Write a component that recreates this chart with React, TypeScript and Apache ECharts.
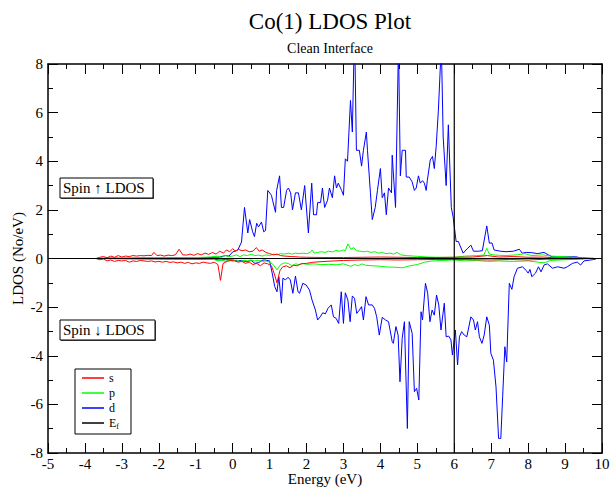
import React, { useEffect, useRef } from "react";
import * as echarts from "echarts";

const xTicks = { min: -5, max: 10, interval: 1 };
const yTicks = { min: -8, max: 8, interval: 2 };

const sUp: number[][] = [[-3.7,0],[-3.6,0.05],[-3.5,0.08],[-3.4,0.03],[-3.3,0.1],[-3.2,0.05],[-3.1,0.12],[-3.0,0.06],[-2.9,0.1],[-2.8,0.08],[-2.7,0.12],[-2.6,0.1],[-2.5,0.12],[-2.4,0.11],[-2.3,0.13],[-2.2,0.12],[-2.13,0.25],[-2.05,0.12],[-1.95,0.14],[-1.85,0.1],[-1.75,0.14],[-1.65,0.12],[-1.55,0.15],[-1.45,0.38],[-1.35,0.15],[-1.25,0.14],[-1.15,0.18],[-1.05,0.13],[-0.95,0.2],[-0.85,0.15],[-0.75,0.22],[-0.65,0.17],[-0.55,0.25],[-0.45,0.18],[-0.35,0.3],[-0.25,0.22],[-0.17,0.35],[-0.08,0.28],[0.0,0.4],[0.08,0.3],[0.15,0.38],[0.25,0.32],[0.35,0.35],[0.45,0.28],[0.55,0.3],[0.64,0.45],[0.72,0.3],[0.8,0.35],[0.9,0.25],[1.0,0.2],[1.1,0.15],[1.2,0.18],[1.3,0.12],[1.4,0.1],[1.6,0.08],[1.8,0.06],[2.0,0.05],[2.5,0.04],[3.0,0.04],[3.5,0.05],[4.0,0.06],[4.5,0.05],[5.0,0.04],[5.5,0.04],[6.0,0.05],[6.5,0.06],[6.9,0.12],[7.2,0.06],[7.6,0.08],[8.0,0.05],[8.4,0.06],[8.7,0.03],[9.2,0.02],[9.6,0.01]];

const sDown: number[][] = [[-3.7,0],[-3.6,-0.05],[-3.5,-0.02],[-3.4,-0.1],[-3.3,-0.06],[-3.2,-0.12],[-3.1,-0.08],[-3.0,-0.1],[-2.9,-0.08],[-2.8,-0.15],[-2.7,-0.1],[-2.6,-0.12],[-2.5,-0.08],[-2.4,-0.1],[-2.3,-0.12],[-2.2,-0.1],[-2.1,-0.14],[-2.0,-0.12],[-1.9,-0.15],[-1.8,-0.12],[-1.7,-0.16],[-1.6,-0.14],[-1.5,-0.18],[-1.4,-0.15],[-1.3,-0.2],[-1.2,-0.16],[-1.1,-0.22],[-1.0,-0.18],[-0.9,-0.2],[-0.8,-0.15],[-0.7,-0.18],[-0.6,-0.2],[-0.5,-0.15],[-0.4,-0.25],[-0.33,-0.9],[-0.26,-0.2],[-0.15,-0.12],[-0.05,-0.08],[0.05,-0.1],[0.15,-0.15],[0.25,-0.12],[0.35,-0.2],[0.45,-0.15],[0.55,-0.25],[0.65,-0.2],[0.75,-0.3],[0.85,-0.18],[0.95,-0.22],[1.05,-0.3],[1.12,-0.6],[1.2,-1.0],[1.28,-0.5],[1.35,-0.35],[1.45,-0.3],[1.55,-0.38],[1.65,-0.28],[1.75,-0.3],[1.85,-0.22],[2.0,-0.2],[2.2,-0.15],[2.5,-0.12],[3.0,-0.08],[3.5,-0.06],[4.0,-0.05],[4.5,-0.06],[5.0,-0.05],[5.5,-0.04],[6.0,-0.04],[6.5,-0.05],[7.0,-0.06],[7.5,-0.04],[8.0,-0.06],[8.5,-0.03],[9.0,-0.02],[9.5,-0.01]];

const pUp: number[][] = [[-3.7,0],[-3.0,0.01],[-2.0,0.02],[-1.5,0.03],[-1.0,0.04],[-0.6,0.06],[-0.4,0.1],[-0.3,0.05],[-0.2,0.12],[-0.1,0.08],[0.0,0.1],[0.1,0.15],[0.2,0.08],[0.3,0.15],[0.4,0.12],[0.5,0.18],[0.6,0.12],[0.7,0.14],[0.8,0.1],[0.9,0.15],[1.0,0.12],[1.1,0.18],[1.2,0.15],[1.3,0.2],[1.4,0.18],[1.5,0.22],[1.6,0.18],[1.7,0.22],[1.8,0.2],[1.9,0.22],[2.0,0.2],[2.1,0.25],[2.15,0.35],[2.2,0.22],[2.3,0.25],[2.4,0.28],[2.5,0.25],[2.6,0.3],[2.7,0.27],[2.8,0.33],[2.9,0.3],[3.0,0.35],[3.05,0.32],[3.12,0.6],[3.2,0.38],[3.28,0.45],[3.35,0.32],[3.45,0.3],[3.55,0.28],[3.65,0.3],[3.75,0.25],[3.85,0.28],[3.95,0.22],[4.05,0.25],[4.15,0.2],[4.25,0.22],[4.35,0.18],[4.45,0.25],[4.55,0.15],[4.7,0.12],[4.9,0.1],[5.1,0.08],[5.3,0.06],[5.6,0.05],[6.0,0.05],[6.3,0.1],[6.6,0.12],[6.8,0.14],[6.88,0.42],[6.95,0.18],[7.1,0.14],[7.4,0.12],[7.7,0.15],[7.9,0.2],[8.1,0.12],[8.4,0.15],[8.6,0.1],[8.9,0.08],[9.2,0.05],[9.5,0.02],[9.8,0.01]];

const pDown: number[][] = [[-3.7,0],[-2.0,-0.01],[-1.0,-0.02],[-0.5,-0.04],[-0.4,-0.1],[-0.3,-0.06],[-0.2,-0.12],[-0.1,-0.08],[0.0,-0.1],[0.1,-0.06],[0.2,-0.12],[0.3,-0.08],[0.4,-0.1],[0.5,-0.06],[0.6,-0.1],[0.7,-0.08],[0.8,-0.12],[0.9,-0.1],[1.0,-0.15],[1.1,-0.25],[1.2,-0.47],[1.3,-0.25],[1.4,-0.18],[1.5,-0.2],[1.6,-0.3],[1.7,-0.22],[1.8,-0.25],[1.9,-0.2],[2.0,-0.24],[2.2,-0.22],[2.4,-0.25],[2.6,-0.24],[2.8,-0.26],[3.0,-0.22],[3.2,-0.32],[3.3,-0.25],[3.4,-0.3],[3.5,-0.22],[3.6,-0.28],[3.8,-0.3],[4.0,-0.32],[4.2,-0.35],[4.4,-0.36],[4.6,-0.38],[4.8,-0.3],[5.0,-0.25],[5.2,-0.15],[5.4,-0.1],[5.7,-0.08],[6.0,-0.06],[6.3,-0.1],[6.6,-0.08],[6.9,-0.12],[7.2,-0.1],[7.6,-0.12],[8.0,-0.1],[8.43,-0.18],[8.6,-0.08],[9.0,-0.05],[9.5,-0.02],[9.8,-0.01]];

const dUp: number[][] = [[-3.7,0],[-3.3,0.02],[-3.0,0.01],[-2.5,0.02],[-2.0,0.02],[-1.5,0.03],[-1.0,0.03],[-0.7,0.04],[-0.5,0.05],[-0.35,0.06],[-0.2,0.12],[-0.1,0.1],[0.0,0.27],[0.14,0.35],[0.24,0.68],[0.32,2.1],[0.41,1.05],[0.46,1.6],[0.54,1.1],[0.59,0.9],[0.65,1.45],[0.70,1.3],[0.78,1.5],[0.84,1.1],[0.89,1.15],[0.95,2.8],[1.05,2.6],[1.08,2.4],[1.16,1.9],[1.19,2.8],[1.27,3.4],[1.32,2.1],[1.38,2.1],[1.46,2.8],[1.51,2.9],[1.57,2.7],[1.62,2.0],[1.70,2.7],[1.78,2.7],[1.86,2.0],[1.95,3.0],[2.05,1.05],[2.14,3.1],[2.19,1.8],[2.27,1.8],[2.30,2.3],[2.38,2.3],[2.43,2.9],[2.49,2.1],[2.57,2.4],[2.62,2.9],[2.70,2.5],[2.76,3.4],[2.81,2.9],[2.86,3.1],[2.95,2.8],[3.0,2.6],[3.05,4.1],[3.11,4.0],[3.19,6.5],[3.24,5.2],[3.30,9.5],[3.35,4.45],[3.43,4.45],[3.49,3.8],[3.54,4.45],[3.62,5.2],[3.65,4.45],[3.73,2.7],[3.78,1.6],[3.86,2.1],[3.92,2.8],[4.0,3.7],[4.05,2.5],[4.11,2.7],[4.16,1.8],[4.22,2.9],[4.30,2.7],[4.32,4.25],[4.41,2.1],[4.49,8.8],[4.54,3.4],[4.59,4.45],[4.68,4.45],[4.70,3.35],[4.78,3.35],[4.86,3.15],[4.92,2.8],[4.97,2.9],[5.03,3.4],[5.08,3.1],[5.14,3.2],[5.19,3.1],[5.24,2.8],[5.27,3.2],[5.35,4.05],[5.41,4.2],[5.46,3.7],[5.51,4.6],[5.57,6.1],[5.65,8.8],[5.70,5.0],[5.78,3.0],[5.84,5.5],[5.92,2.1],[5.97,1.7],[6.05,0.7],[6.11,0.7],[6.24,0.22],[6.35,0.4],[6.45,0.55],[6.52,0.3],[6.65,0.3],[6.76,0.32],[6.88,1.34],[6.95,0.63],[7.02,0.64],[7.08,0.35],[7.25,0.3],[7.4,0.28],[7.6,0.3],[7.76,0.38],[7.84,0.22],[7.95,0.25],[8.1,0.24],[8.25,0.2],[8.43,0.25],[8.55,0.15],[8.65,0.07],[9.0,0.07],[9.29,0.07],[9.46,0.02],[9.8,0]];

const dDown: number[][] = [[-3.7,0],[-3.0,-0.01],[-2.0,-0.02],[-1.0,-0.03],[-0.5,-0.04],[-0.35,-0.06],[-0.2,-0.05],[0,-0.06],[0.14,-0.1],[0.24,-0.08],[0.37,-0.13],[0.5,-0.08],[0.6,-0.2],[0.71,-0.17],[0.78,-0.08],[0.86,-0.06],[1.0,-0.1],[1.07,-0.6],[1.14,-1.16],[1.2,-1.37],[1.25,-0.75],[1.32,-1.84],[1.36,-0.81],[1.43,-0.88],[1.5,-0.77],[1.56,-0.88],[1.63,-1.43],[1.7,-0.72],[1.77,-1.37],[1.81,-1.43],[1.9,-1.02],[1.99,-1.09],[2.08,-1.3],[2.15,-1.71],[2.24,-2.12],[2.3,-2.53],[2.37,-2.4],[2.44,-2.23],[2.51,-2.28],[2.58,-2.05],[2.67,-1.91],[2.73,-2.4],[2.8,-2.46],[2.87,-2.67],[2.94,-1.37],[3.0,-2.67],[3.05,-1.41],[3.12,-1.71],[3.18,-2.6],[3.24,-1.54],[3.3,-1.64],[3.36,-2.26],[3.43,-2.12],[3.49,-1.98],[3.54,-2.53],[3.61,-1.57],[3.68,-1.91],[3.78,-1.91],[3.84,-2.05],[3.9,-2.4],[3.97,-3.15],[4.05,-2.42],[4.14,-2.53],[4.22,-2.6],[4.32,-3.42],[4.35,-3.49],[4.42,-2.8],[4.48,-3.15],[4.53,-5.07],[4.59,-3.28],[4.65,-2.6],[4.73,-6.99],[4.78,-2.6],[4.86,-3.08],[4.92,-5.48],[4.98,-5.34],[5.04,-5.82],[5.1,-2.19],[5.14,-2.53],[5.22,-1.02],[5.28,-1.43],[5.34,-2.6],[5.4,-2.12],[5.46,-2.33],[5.52,-1.5],[5.58,-1.91],[5.64,-2.94],[5.73,-1.84],[5.78,-3.22],[5.85,-3.19],[5.91,-3.35],[5.95,-3.97],[6.03,-2.94],[6.09,-4.38],[6.14,-3.22],[6.2,-3.01],[6.27,-3.15],[6.34,-3.22],[6.45,-2.4],[6.52,-2.53],[6.57,-2.94],[6.63,-2.6],[6.68,-3.22],[6.75,-3.49],[6.81,-3.15],[6.88,-2.4],[6.95,-2.74],[6.99,-3.9],[7.06,-4.18],[7.13,-5.28],[7.2,-7.4],[7.26,-7.4],[7.31,-5.69],[7.37,-3.63],[7.42,-4.25],[7.49,-1.02],[7.56,-1.27],[7.62,-0.75],[7.71,-0.4],[7.85,-0.34],[7.95,-0.5],[8.0,-0.6],[8.05,-0.45],[8.1,-0.75],[8.2,-0.6],[8.28,-0.34],[8.35,-0.55],[8.43,-0.27],[8.52,-0.22],[8.66,-0.4],[8.8,-0.34],[8.97,-0.4],[9.06,-0.34],[9.2,-0.2],[9.33,-0.15],[9.42,-0.27],[9.51,-0.1],[9.83,-0.03]];

const fermiEnergy = 6;
const legendNames = ["s", "p", "d", "Ef"];

const FONT = "'Liberation Serif', 'Times New Roman', serif";

export default function App() {
  const ref = useRef<HTMLDivElement>(null);
  useEffect(() => {
    document.body.style.margin = "0";
    if (!ref.current) return;
    const chart = echarts.init(ref.current, undefined, { renderer: "svg" });
    const line = (name: string, data: number[][], color: string, z = 2) => ({
      type: "line",
      name,
      data,
      symbol: "none",
      z,
      lineStyle: { color, width: 1 },
      itemStyle: { color },
      silent: true,
    });
    const axisCommon = {
      type: "value",
      splitLine: { show: false },
      axisLine: { show: true, onZero: false, lineStyle: { color: "#000", width: 1.5 } },
      axisTick: { show: true, inside: true, length: 10, lineStyle: { color: "#000", width: 1 } },
      minorTick: { show: true, splitNumber: 2, length: 5, lineStyle: { color: "#000", width: 1 } },
    };
    chart.setOption({
      animation: false,
      backgroundColor: "#fff",
      title: {
        text: "Co(1) LDOS Plot",
        subtext: "Clean Interface",
        left: 325,
        top: 5,
        textAlign: "center",
        itemGap: 8,
        textStyle: { fontFamily: FONT, fontSize: 23, fontWeight: "normal", color: "#000" },
        subtextStyle: { fontFamily: FONT, fontSize: 14, color: "#000" },
      },
      grid: { left: 48, right: 12, top: 64, bottom: 35, outerBoundsMode: "none", containLabel: false },
      legend: {
        data: legendNames,
        orient: "vertical",
        left: 75,
        top: 369,
        icon: "rect",
        itemWidth: 22,
        itemHeight: 1.5,
        itemGap: 3,
        padding: [3, 12, 4, 7],
        borderColor: "#000",
        borderWidth: 1,
        backgroundColor: "#fff",
        selectedMode: false,
        textStyle: {
          fontFamily: FONT,
          fontSize: 12,
          lineHeight: 12,
          color: "#000",
          rich: {
            e: { fontFamily: FONT, fontSize: 12, color: "#000" },
            f: { fontFamily: FONT, fontSize: 8, color: "#000", padding: [6, 0, 0, 0] },
          },
        },
        formatter: (n: string) => (n === "Ef" ? "{e|E}{f|f}" : n),
      },
      xAxis: [
        {
          ...axisCommon,
          position: "bottom",
          min: xTicks.min,
          max: xTicks.max,
          interval: xTicks.interval,
          name: "Energy (eV)",
          nameLocation: "middle",
          nameGap: 18,
          nameMoveOverlap: false,
          nameTextStyle: { fontFamily: FONT, fontSize: 15, color: "#000", verticalAlign: "top" },
          axisLabel: { fontFamily: FONT, fontSize: 15, color: "#000", margin: 3 },
        },
        {
          ...axisCommon,
          position: "top",
          min: xTicks.min,
          max: xTicks.max,
          interval: xTicks.interval,
          axisLabel: { show: false },
        },
      ],
      yAxis: [
        {
          ...axisCommon,
          position: "left",
          min: yTicks.min,
          max: yTicks.max,
          interval: yTicks.interval,
          name: "LDOS (No/eV)",
          nameLocation: "middle",
          nameGap: 23,
          nameMoveOverlap: false,
          nameTextStyle: { fontFamily: FONT, fontSize: 15, color: "#000" },
          axisLabel: { fontFamily: FONT, fontSize: 15, color: "#000", margin: 5 },
        },
        {
          ...axisCommon,
          position: "right",
          min: yTicks.min,
          max: yTicks.max,
          interval: yTicks.interval,
          axisLabel: { show: false },
        },
      ],
      series: [
        line("s", sUp, "#ff0000", 4),
        line("s", sDown, "#ff0000", 4),
        line("p", pUp, "#00ff00", 3),
        line("p", pDown, "#00ff00", 3),
        line("d", dUp, "#0000ff", 2),
        line("d", dDown, "#0000ff", 2),
        { ...line("Ef", [[fermiEnergy, yTicks.min], [fermiEnergy, yTicks.max]], "#000", 5), lineStyle: { color: "#000", width: 1.2 } },
        { ...line("zero", [[xTicks.min, 0], [xTicks.max, 0]], "#000", 5), lineStyle: { color: "#000", width: 1.2 } },
      ],
      graphic: [
        { type: "rect", shape: { x: 61, y: 179, width: 93, height: 20 }, style: { fill: "#555" }, z: 10 },
        { type: "rect", shape: { x: 60, y: 178, width: 93, height: 20 }, style: { fill: "#fff", stroke: "#000", lineWidth: 1 }, z: 11 },
        { type: "text", x: 63, y: 188, style: { text: "Spin ↑ LDOS", font: `15px ${FONT}`, fill: "#000", verticalAlign: "middle" }, z: 12 },
        { type: "rect", shape: { x: 61, y: 321, width: 95, height: 20 }, style: { fill: "#555" }, z: 10 },
        { type: "rect", shape: { x: 60, y: 320, width: 95, height: 20 }, style: { fill: "#fff", stroke: "#000", lineWidth: 1 }, z: 11 },
        { type: "text", x: 63, y: 330, style: { text: "Spin ↓ LDOS", font: `15px ${FONT}`, fill: "#000", verticalAlign: "middle" }, z: 12 },
      ],
    });
    return () => chart.dispose();
  }, []);
  return <div ref={ref} style={{ width: 614, height: 488 }} />;
}
